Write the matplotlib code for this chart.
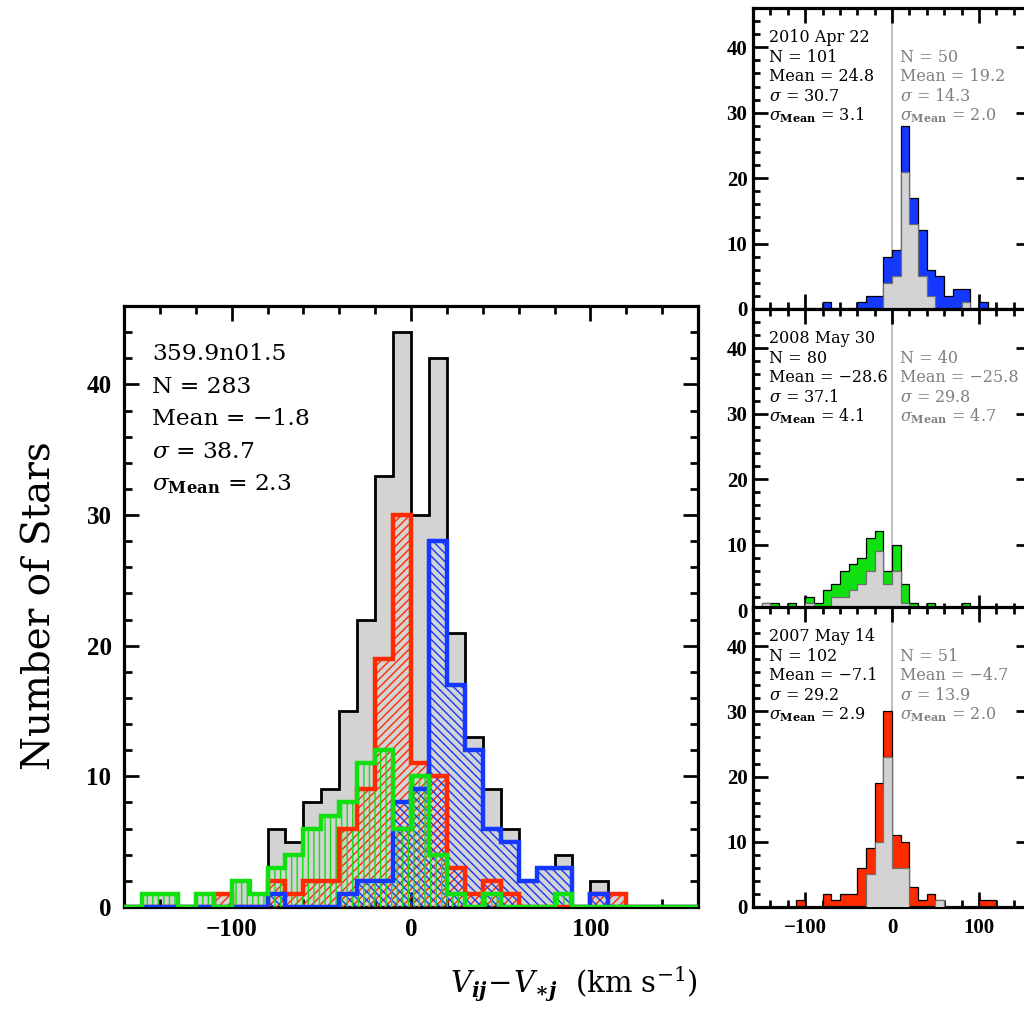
import numpy as np
import matplotlib
matplotlib.use("Agg")
import matplotlib.pyplot as plt
from matplotlib.ticker import MultipleLocator

plt.rcParams["font.family"] = ["DejaVu Serif"]
plt.rcParams["mathtext.fontset"] = "dejavuserif"
plt.rcParams["hatch.linewidth"] = 1.0

# 10 km/s bins from -160 to +160
bin_edges = np.arange(-160, 161, 10)

# stars per bin, full sample of each epoch (first bin is [-160,-150])
counts_2010 = [0, 0, 0, 0, 0, 0, 0, 0, 1, 0, 0, 0, 1, 2, 2, 8,
               9, 28, 17, 12, 6, 5, 2, 3, 3, 0, 1, 0, 0, 0, 0, 0]
counts_2008 = [0, 1, 1, 0, 1, 0, 2, 1, 3, 4, 6, 7, 8, 11, 12, 6,
               10, 4, 1, 0, 1, 0, 0, 0, 1, 0, 0, 0, 0, 0, 0, 0]
counts_2007 = [0, 0, 0, 0, 0, 1, 0, 0, 2, 1, 2, 2, 6, 9, 19, 30,
               11, 10, 3, 1, 2, 1, 0, 0, 0, 0, 1, 1, 0, 0, 0, 0]

# grey sub-samples in the side panels
sub_2010 = [0, 0, 0, 0, 0, 0, 0, 0, 0, 0, 0, 0, 0, 0, 0, 4,
            5, 21, 13, 5, 2, 0, 0, 0, 1, 0, 0, 0, 0, 0, 0, 0]
sub_2008 = [0, 1, 0, 0, 0, 0, 1, 0, 0, 2, 2, 3, 4, 6, 9, 4,
            6, 1, 0, 0, 0, 0, 0, 0, 0, 0, 0, 0, 0, 0, 0, 0]
sub_2007 = [0, 0, 0, 0, 0, 0, 0, 0, 0, 0, 0, 0, 0, 5, 10, 23,
            6, 6, 0, 0, 0, 1, 0, 0, 0, 0, 0, 0, 0, 0, 0, 0]

field_name = "359.9n01.5"
field_stats = ["283", "\u22121.8", "38.7", "2.3"]

epoch_names = ["2010 Apr 22", "2008 May 30", "2007 May 14"]
epoch_stats = [["101", "24.8", "30.7", "3.1"],
               ["80", "\u221228.6", "37.1", "4.1"],
               ["102", "\u22127.1", "29.2", "2.9"]]
sub_stats = [["50", "19.2", "14.3", "2.0"],
             ["40", "\u221225.8", "29.8", "4.7"],
             ["51", "\u22124.7", "13.9", "2.0"]]

RED = "#ff2a00"
BLUE = "#1438ff"
GREEN = "#10e010"
FILL_GREY = "#d3d3d3"
TICK_FONT = {"family": "Liberation Serif", "weight": "bold"}


def stat_lines(n, mean, sigma, err):
    return ["N = " + n,
            "Mean = " + mean,
            r"$\sigma$ = " + sigma,
            r"$\sigma_{\mathbf{Mean}}$ = " + err]


def style_axes(ax, label_size, lw, major_len, minor_len):
    ax.set_xlim(-160, 160)
    ax.set_ylim(0, 46)
    ax.xaxis.set_major_locator(MultipleLocator(100))
    ax.xaxis.set_minor_locator(MultipleLocator(20))
    ax.yaxis.set_major_locator(MultipleLocator(10))
    ax.yaxis.set_minor_locator(MultipleLocator(2))
    ax.tick_params(which="both", direction="in", top=True, right=True)
    ax.tick_params(which="major", length=major_len, width=lw * 0.85)
    ax.tick_params(which="minor", length=minor_len, width=lw * 0.85)
    for sp in ax.spines.values():
        sp.set_linewidth(lw)
    for lab in ax.get_xticklabels() + ax.get_yticklabels():
        lab.set_fontproperties(TICK_FONT)
        lab.set_fontsize(label_size)


fig = plt.figure(figsize=(10.24, 10.15), dpi=100)

# ---- combined histogram ----
ax = fig.add_axes([124 / 1024, 108 / 1015, 574 / 1024, 601 / 1015])
total = np.array(counts_2010) + np.array(counts_2008) + np.array(counts_2007)
ax.stairs(total, bin_edges, fill=True, facecolor=FILL_GREY, lw=0, zorder=1)
ax.stairs(total, bin_edges, color="black", lw=2.0, zorder=2)

layers = [(counts_2007, RED, "////"),
          (counts_2010, BLUE, "\\\\\\\\"),
          (counts_2008, GREEN, "|||")]
for counts, col, hatch in layers:
    ax.stairs(counts, bin_edges, fill=True, facecolor="none", edgecolor=col,
              hatch=hatch, lw=0, zorder=3)
for i, (counts, col, hatch) in enumerate(layers):
    ax.stairs(counts, bin_edges, color=col, lw=3.2, zorder=4 + i)

style_axes(ax, 18, 2.3, 11, 6)
ax.tick_params(axis="x", pad=8)
ax.tick_params(axis="y", pad=9)

main_lines = [field_name] + stat_lines(*field_stats)
for k, line in enumerate(main_lines):
    ax.text(0.049, 0.910 - 0.0541 * k, line, transform=ax.transAxes,
            fontsize=16.8, va="baseline", ha="left", zorder=10)

# ---- per-epoch panels ----
side_rows = [(counts_2010, sub_2010, BLUE, 706),
             (counts_2008, sub_2008, GREEN, 405),
             (counts_2007, sub_2007, RED, 108)]
for idx, (full, sub, col, bottom) in enumerate(side_rows):
    height = 301 if idx < 2 else 300
    sax = fig.add_axes([753 / 1024, bottom / 1015, 278 / 1024, height / 1015])
    sax.axvline(0, color="#b4b4b4", lw=1.2, zorder=0)
    sax.stairs(full, bin_edges, fill=True, facecolor=col, edgecolor="black",
               lw=0.9, zorder=2)
    sax.stairs(sub, bin_edges, fill=True, facecolor=FILL_GREY,
               edgecolor="#6e6e6e", lw=0.9, zorder=3)
    style_axes(sax, 15, 2.3, 11, 5)
    sax.tick_params(axis="x", pad=8)
    sax.tick_params(axis="y", pad=4)
    if idx < 2:
        sax.tick_params(axis="x", labelbottom=False)

    left_lines = [epoch_names[idx]] + stat_lines(*epoch_stats[idx])
    for k, line in enumerate(left_lines):
        sax.text(0.058, 0.886 - 0.0648 * k, line, transform=sax.transAxes,
                 fontsize=11.5, va="baseline", ha="left", zorder=10)
    for k, line in enumerate(stat_lines(*sub_stats[idx])):
        sax.text(0.529, 0.886 - 0.0648 * (k + 1), line,
                 transform=sax.transAxes, fontsize=11.5, color="#808080",
                 va="baseline", ha="left", zorder=10)

fig.text(40 / 1024, 0.403, "Number of Stars", rotation=90, fontsize=28,
         ha="center", va="center")
fig.text(574 / 1024, 0.030,
         r"$V_{\boldsymbol{ij}}\!-\!V_{\boldsymbol{\ast j}}$  (km s$^{-1}$)",
         fontsize=21, ha="center", va="center")

fig.savefig("out.png", dpi=100)
